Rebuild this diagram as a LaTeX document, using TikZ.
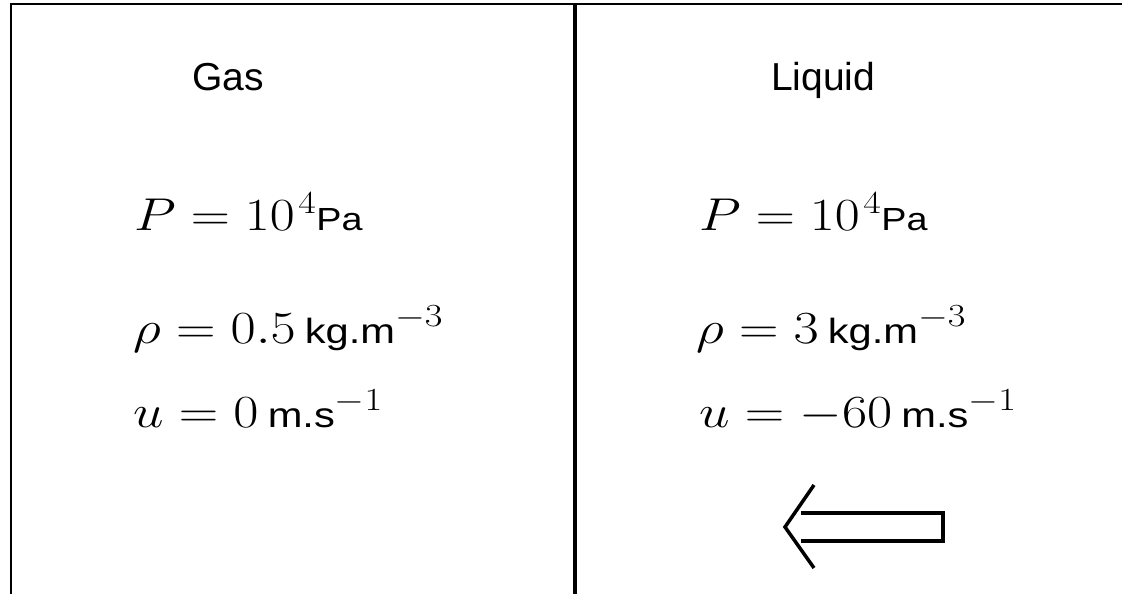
\RequirePackage{fix-cm}
\documentclass[tikz,border=0pt]{standalone}
\usepackage{graphicx}
\usepackage{fontspec}
\setsansfont{Liberation Sans}
\newcommand{\unitsf}[2][35]{\mbox{\fontsize{#1}{40}\selectfont\sffamily #2}}
\newcommand{\xstr}[2][1.19]{\scalebox{#1}[1]{#2}}
\begin{document}
\begin{tikzpicture}[x=1pt,y=-1pt,
  label/.style={font=\fontsize{39}{44}\selectfont\sffamily, anchor=base west, inner sep=0pt},
  eqn/.style={font=\fontsize{46}{52}\selectfont, anchor=base west, inner sep=0pt},
  frame/.style={line width=2pt, black},
  wall/.style={line width=4.5pt, black},
  flow/.style={line width=3.5pt, black, line join=miter}]
\useasboundingbox (0,0) rectangle (1122,594);
\fill[white] (0,0) rectangle (1122,594);
% frame
\draw[frame] (10.5,594) -- (10.5,4.5) -- (1122,4.5);
\draw[wall] (575,4) -- (575,594);
% titles
\node[label] (gas) at (192,90) {Gas};
\node[label] (liq) at (771,90) {Liquid};
% gas state
\node[eqn] (pg) at (134,230) {\xstr[1.18]{$P = 10\kern3pt{}^4$\unitsf[32]{Pa}}};
\node[eqn] (rg) at (133,343) {\xstr{$\rho = 0.5\,$\unitsf{kg.m}$^{-3}$}};
\node[eqn] (ug) at (133,427) {\xstr{$u = 0\,$\unitsf{m.s}$^{-1}$}};
% liquid state
\node[eqn] (pl) at (699,230) {\xstr[1.18]{$P = 10\kern3pt{}^4$\unitsf[32]{Pa}}};
\node[eqn] (rl) at (696,343) {\xstr{$\rho = 3\,$\unitsf{kg.m}$^{-3}$}};
\node[eqn] (ul) at (699,427) {\xstr{$u = -60\,$\unitsf{m.s}$^{-1}$}};
% arrow
\draw[flow] (814,485) -- (785,527) -- (814,568);
\draw[flow] (801,513) -- (943,513) -- (943,541) -- (801,541);
\end{tikzpicture}
\end{document}
